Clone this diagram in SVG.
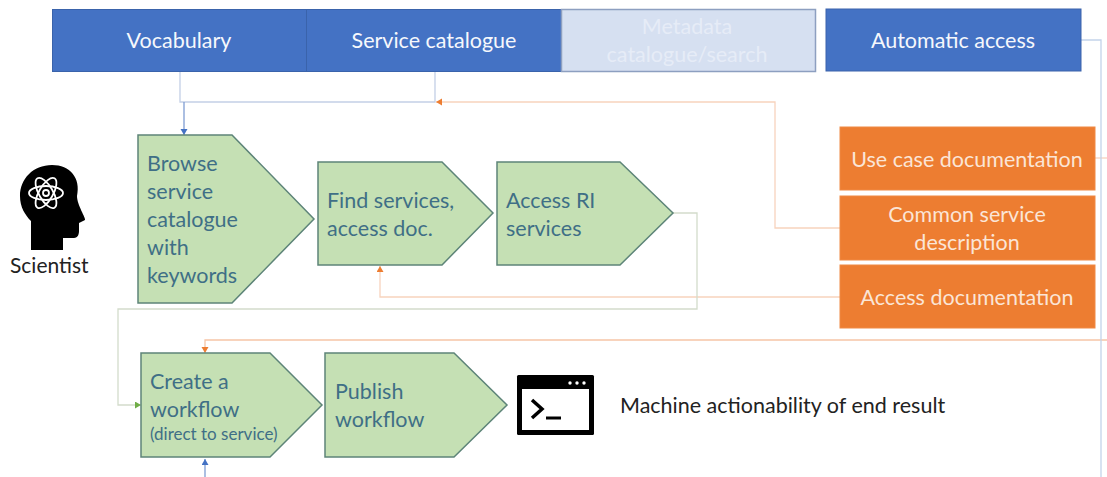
<svg xmlns="http://www.w3.org/2000/svg" width="1107" height="477" viewBox="0 0 1107 477">
<style>
text{font-family:Lato,"Open Sans","Liberation Sans",sans-serif;font-size:21.500px}
.b{fill:#4472c4;stroke:#3a63ab;stroke-width:1}
.o{fill:#ed7d31;stroke:#f08a45;stroke-width:1}
.g{fill:#c5e0b4;stroke:#5d8478;stroke-width:1.5}
.w{fill:#f6f8fc;text-anchor:middle}
.ow{fill:#fbe5d6;text-anchor:middle}
.t{fill:#3f6f86}
.k{fill:#222}
.c{fill:none;stroke-width:1.3}
.cb{stroke:#c3cfe6}
.co{stroke:#f8d3bd}
.cg{stroke:#d3dccb}
</style>
<defs>
<marker id="ab" markerWidth="8" markerHeight="8" refX="6" refY="3.5" orient="auto" markerUnits="userSpaceOnUse"><path d="M0 0L6 3.5L0 7z" fill="#4472c4"/></marker>
<marker id="ao" markerWidth="8" markerHeight="8" refX="6" refY="3.5" orient="auto" markerUnits="userSpaceOnUse"><path d="M0 0L6 3.5L0 7z" fill="#ed7d31"/></marker>
<marker id="ag" markerWidth="8" markerHeight="8" refX="6" refY="3.5" orient="auto" markerUnits="userSpaceOnUse"><path d="M0 0L6 3.5L0 7z" fill="#70ad47"/></marker>
</defs>
<rect width="1107" height="477" fill="#fff"/>
<g id="connectors">
<path class="c cb" d="M180 71V102H435V71"/>
<path class="c" stroke="#7f9dd3" d="M184 102V135" marker-end="url(#ab)"/>
<path class="c co" d="M840 228H775V102H436" marker-end="url(#ao)"/>
<path class="c co" d="M840 297H380V266" marker-end="url(#ao)"/>
<path class="c cg" d="M673 213H697V309H118V405H141" marker-end="url(#ag)"/>
<path class="c" stroke="#f6c5a6" d="M1107 340H205V353" marker-end="url(#ao)"/>
<path class="c co" d="M1095 158H1107"/>
<path class="c" stroke="#c3d3ea" stroke-width="2" d="M1081 40H1101V477"/>
<path class="c" stroke="#7f9dd3" d="M205 477V459" marker-end="url(#ab)"/>
</g>
<g id="vocabulary"><rect class="b" x="52.500" y="9.500" width="254" height="62"/><text class="w" x="179" y="48">Vocabulary</text></g>
<g id="service-catalogue"><rect class="b" x="306.500" y="9.500" width="255" height="62"/><text class="w" x="434" y="48">Service catalogue</text></g>
<g id="metadata"><rect x="561.500" y="9.500" width="254" height="62" fill="#d6e0f1" stroke="#8d9fc0" stroke-width="1.500"/><text class="w" x="687" y="34" style="fill:#e6ecf7">Metadata</text><text class="w" x="687" y="62" style="fill:#e6ecf7">catalogue/search</text></g>
<g id="automatic-access"><rect class="b" x="826" y="9" width="255" height="62"/><text class="w" x="953" y="48">Automatic access</text></g>
<g id="use-case"><rect class="o" x="840" y="127" width="255" height="63"/><text class="ow" x="967" y="167">Use case documentation</text></g>
<g id="common-service"><rect class="o" x="840" y="196" width="255" height="64"/><text class="ow" x="967" y="222">Common service</text><text class="ow" x="967" y="250">description</text></g>
<g id="access-doc"><rect class="o" x="840" y="265" width="255" height="63"/><text class="ow" x="967" y="305">Access documentation</text></g>
<g id="browse"><path class="g" d="M138 135H232L314 219L232 303H138z"/><text class="t" x="147" y="171">Browse</text><text class="t" x="147" y="199">service</text><text class="t" x="147" y="227">catalogue</text><text class="t" x="147" y="255">with</text><text class="t" x="147" y="283">keywords</text></g>
<g id="find"><path class="g" d="M318 162H442L493 213L442 265H318z"/><text class="t" x="327" y="208">Find services,</text><text class="t" x="327" y="236">access doc.</text></g>
<g id="access-ri"><path class="g" d="M497 162H620L673 213L620 265H497z"/><text class="t" x="506" y="208">Access RI</text><text class="t" x="506" y="236">services</text></g>
<g id="create"><path class="g" d="M141 353H270L322 405L270 457H141z"/><text class="t" x="150" y="389">Create a</text><text class="t" x="150" y="417">workflow</text><text class="t" x="150" y="440" style="font-size:17px">(direct to service)</text></g>
<g id="publish"><path class="g" d="M325 353H454L507 405L454 457H325z"/><text class="t" x="335" y="399">Publish</text><text class="t" x="335" y="427">workflow</text></g>
<g id="scientist">
<path d="M52 165C33 165 20 179 20 196C20 207 25 215 31 221V250H63V238H74C78 238 79 234 79 231V223L85 220C86 218 77 205 77 196C81 178 70 165 52 165z" fill="#000"/>
<g fill="none" stroke="#fff" stroke-width="1.800"><ellipse cx="46" cy="193" rx="17" ry="7"/><ellipse cx="46" cy="193" rx="17" ry="7" transform="rotate(60 46 193)"/><ellipse cx="46" cy="193" rx="17" ry="7" transform="rotate(-60 46 193)"/><circle cx="46" cy="193" r="3"/></g>
<text x="10" y="273" class="k" style="font-size:21px">Scientist</text>
</g>
<g id="terminal">
<rect x="517" y="375" width="77" height="60" rx="1.500" fill="#000"/><rect x="522" y="389" width="67" height="41" fill="#fff"/>
<circle cx="570" cy="383" r="1.700" fill="#fff"/><circle cx="577" cy="383" r="1.700" fill="#fff"/><circle cx="584" cy="383" r="1.700" fill="#fff"/>
<path d="M532 400L542 409L532 418" fill="none" stroke="#000" stroke-width="3.500"/><path d="M546 418H561" stroke="#000" stroke-width="3"/>
</g>
<g id="machine-label"><text class="k" x="620" y="413">Machine actionability of end result</text></g>
</svg>
